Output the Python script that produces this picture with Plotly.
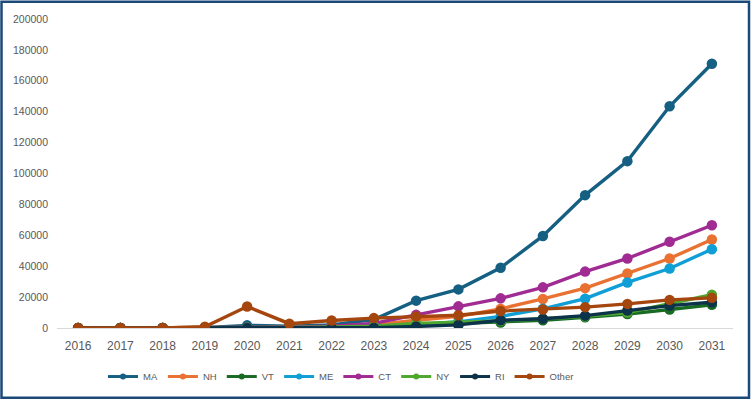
import plotly.graph_objects as go

years = [str(y) for y in range(2016, 2032)]

MA = [0, 0, 0, 200, 1700, 1200, 2000, 5500, 17700, 25000, 39000, 59600, 86000, 108000, 143500, 171000]
NH = [0, 0, 0, 0, 200, 500, 1000, 2000, 5000, 7500, 12400, 18800, 25800, 35300, 45000, 57300]
VT = [0, 0, 0, 0, 100, 300, 500, 1000, 2000, 2500, 3500, 5000, 7000, 9000, 12000, 15000]
ME = [0, 0, 0, 0, 100, 300, 600, 1200, 2000, 4000, 7500, 12400, 19000, 29500, 38500, 51000]
CT = [0, 0, 0, 0, 200, 500, 1200, 3000, 8500, 14000, 19200, 26300, 36500, 45000, 55800, 66500]
NY = [0, 0, 0, 0, 100, 300, 600, 1200, 3000, 3500, 4500, 6000, 7500, 10000, 16000, 21500]
RI = [0, 0, 0, 0, 0, 0, 0, 200, 1000, 2000, 5000, 6000, 8000, 11300, 14500, 16700]
Other = [0, 0, 0, 800, 13900, 2800, 4900, 6400, 7500, 8300, 11000, 12000, 13500, 15600, 18200, 19500]

series = [
    ("MA", MA, "#156082"),
    ("NH", NH, "#E97132"),
    ("VT", VT, "#196B24"),
    ("ME", ME, "#0F9ED5"),
    ("CT", CT, "#A02B93"),
    ("NY", NY, "#4EA72E"),
    ("RI", RI, "#0C3349"),
    ("Other", Other, "#A5460F"),
]

W, H = 751, 403
L, R, T, B = 57, 18, 19, 72
pw, ph = W - L - R, H - T - B

fig = go.Figure()
for name, vals, col in series:
    fig.add_trace(go.Scatter(
        x=years, y=vals, name=name, mode="lines+markers", legendgroup=name,
        showlegend=False,
        line=dict(color=col, width=3.4),
        marker=dict(color=col, size=10.5, symbol="circle"),
    ))
# legend entries with smaller markers (no data points)
for name, vals, col in series:
    fig.add_trace(go.Scatter(
        x=[None], y=[None], name=name, mode="lines+markers", legendgroup=name,
        showlegend=True,
        line=dict(color=col, width=3),
        marker=dict(color=col, size=6, symbol="circle"),
    ))

fig.update_layout(
    width=W, height=H,
    margin=dict(l=L, r=R, t=T, b=B, pad=0),
    paper_bgcolor="white", plot_bgcolor="white",
    font=dict(family="Liberation Sans, Arial, sans-serif", color="#595959", size=10),
    showlegend=True,
    legend=dict(orientation="h", x=(103 - L) / pw, xanchor="left",
                y=-(380 - (T + ph)) / ph, yanchor="middle",
                font=dict(size=9.5, color="#595959"), itemwidth=30, tracegroupgap=0),
    xaxis=dict(type="category", range=[-0.5, 15.5], showgrid=False, showline=True,
               linecolor="#D9D9D9", linewidth=1, ticks="", tickfont=dict(size=12),
               zeroline=False, ticklabelstandoff=7),
    yaxis=dict(range=[0, 200000], dtick=20000, showgrid=False, showline=False, zeroline=False,
               ticks="", tickfont=dict(size=10.5), tickformat="d", ticklabelstandoff=8),
    shapes=[dict(type="rect", xref="paper", yref="paper",
                 x0=-(L - 1.5) / pw, x1=1 + (R - 2) / pw,
                 y0=-(B - 1.5) / ph, y1=1 + (T - 1.5) / ph,
                 line=dict(color="#1B4A7A", width=2.5), fillcolor="rgba(0,0,0,0)", layer="above")],
)

fig.write_html(
    "out.html",
    config={"displayModeBar": False},
    post_script=(
        "document.body.style.margin='0';document.body.style.padding='0';"
        "document.body.style.overflow='hidden';document.documentElement.style.overflow='hidden';"
    ),
)
